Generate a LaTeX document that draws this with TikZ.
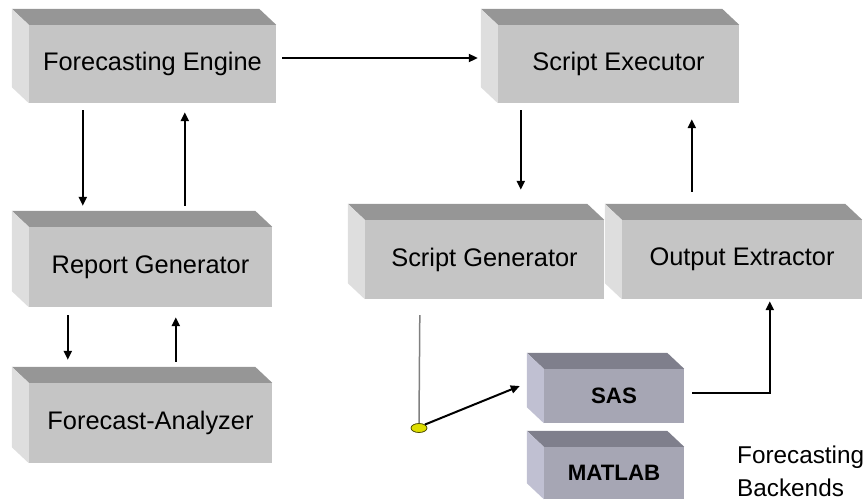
\documentclass[tikz,border=0pt]{standalone}
\usepackage{fontspec}
\setmainfont{Liberation Sans}
\usetikzlibrary{arrows.meta,shapes.geometric}

\definecolor{slabfront}{RGB}{197,197,197}
\definecolor{slabtop}{RGB}{150,150,150}
\definecolor{slabside}{RGB}{222,222,222}
\definecolor{engfront}{RGB}{166,166,180}
\definecolor{engtop}{RGB}{127,127,140}
\definecolor{engside}{RGB}{192,192,210}
\definecolor{pinfill}{RGB}{222,222,0}
\definecolor{pinedge}{RGB}{80,80,0}

% top and left faces of a block whose front face is node #1
\newcommand\slabfaces[3]{%
  \fill[#2] (#1.north west) -- (#1.north east) -- ++(-17,-16)
    -- ([shift={(-17,-16)}]#1.north west) -- cycle;
  \fill[#3] (#1.north west) -- ([shift={(-17,-16)}]#1.north west)
    -- ([shift={(-17,-16)}]#1.south west) -- (#1.south west) -- cycle;
}

\begin{document}
\begin{tikzpicture}[x=1pt,y=-1pt,
  slab/.style={rectangle, fill=slabfront, inner sep=0pt,
    font=\fontsize{25.4}{30}\selectfont},
  engine/.style={rectangle, fill=engfront, inner sep=0pt,
    minimum width=140pt, font=\bfseries\fontsize{22.3}{26}\selectfont},
  arr/.style={draw=black, line width=2pt, -{Triangle[length=9pt,width=8pt]}},
]
\useasboundingbox (0,0) rectangle (866,501);

% blocks
\node[slab, minimum width=247pt, minimum height=78pt] (FE) at (152.5,64) {Forecasting Engine};
\node[slab, minimum width=241pt, minimum height=78pt] (SE) at (618.5,64) {Script Executor};
\node[slab, minimum width=243pt, minimum height=80pt] (RG) at (150.5,267) {Report Generator};
\node[slab, minimum width=243pt, minimum height=80pt] (FA) at (150.5,423) {Forecast-Analyzer};
\node[slab, minimum width=239pt, minimum height=79pt] (SG) at (484.5,259.5) {Script Generator};
\node[slab, minimum width=240pt, minimum height=79pt] (OE) at (742,259.5) {Output Extractor};
\node[engine, minimum height=54pt] (SAS) at (614,396) {SAS};
\node[engine, minimum height=52pt] (ML) at (614,473) {MATLAB};

\slabfaces{FE}{slabtop}{slabside}
\slabfaces{SE}{slabtop}{slabside}
\slabfaces{RG}{slabtop}{slabside}
\slabfaces{FA}{slabtop}{slabside}
\slabfaces{SG}{slabtop}{slabside}
\slabfaces{OE}{slabtop}{slabside}
\slabfaces{SAS}{engtop}{engside}
\slabfaces{ML}{engtop}{engside}

\node[anchor=base west, align=left, inner sep=0pt,
  font=\fontsize{24.3}{33}\selectfont] (BK) at (737,496) {Forecasting\\Backends};

% connectors
\draw[arr] ([shift={(6pt,6pt)}]FE.east) -- ([shift={(-20pt,6pt)}]SE.west);
\draw[arr] ([shift={(54pt,-7pt)}]FE.south west) -- ([shift={(54pt,21pt)}]RG.north west);
\draw[arr] ([shift={(156pt,21pt)}]RG.north west) -- ([shift={(156pt,-9pt)}]FE.south west);
\draw[arr] ([shift={(39pt,-8pt)}]RG.south west) -- ([shift={(39pt,23pt)}]FA.north west);
\draw[arr] ([shift={(147pt,21pt)}]FA.north west) -- ([shift={(147pt,-10pt)}]RG.south west);
\draw[arr] ([shift={(23pt,-7pt)}]SE.south west) -- ([shift={(156pt,30pt)}]SG.north west);
\draw[arr] ([shift={(70pt,28pt)}]OE.north west) -- ([shift={(194pt,-16pt)}]SE.south west);

\node[ellipse, draw=pinedge, fill=pinfill, line width=0.8pt, inner sep=0pt,
  minimum width=16pt, minimum height=9pt] (JN) at (419,428) {};
\draw[gray, line width=1.5pt] ([shift={(55pt,-16pt)}]SG.south west) -- (JN.north);
\draw[arr] (JN.north east) -- ([shift={(-24pt,10pt)}]SAS.west);
\draw[arr] ([shift={(8pt,3pt)}]SAS.east) -| ([shift={(148pt,-2pt)}]OE.south west);
\end{tikzpicture}
\end{document}
